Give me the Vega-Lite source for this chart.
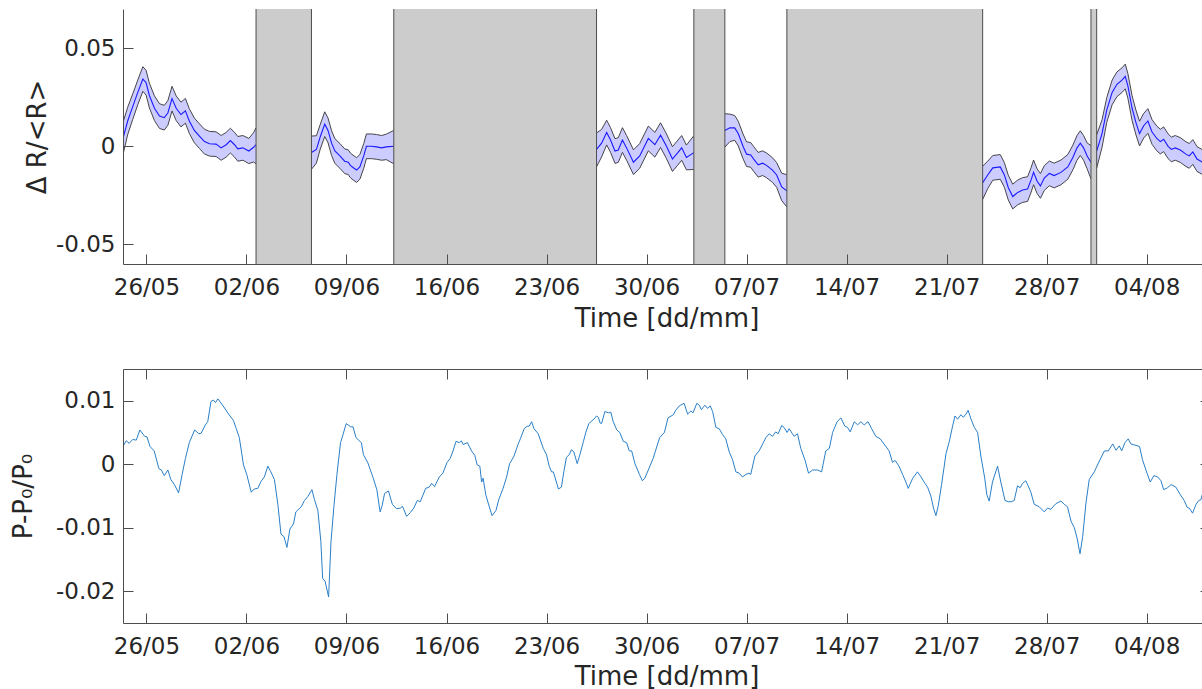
{
"$schema": "https://vega.github.io/schema/vega-lite/v6.json",
"autosize": {"type": "pad"},
"padding": {"left": 9, "top": 8, "right": 0, "bottom": 0},
"background": "white",
"spacing": 105,
"bounds": "flush",
"config": {
  "font": "DejaVu Sans",
  "view": {"stroke": null},
  "axis": {"grid": false, "domainColor": "#4d4d4d", "tickColor": "#4d4d4d", "tickSize": -10, "tickWidth": 1, "domainWidth": 1,
    "labelColor": "#262626", "titleColor": "#262626", "labelFontSize": 23, "titleFontSize": 26, "titleFontWeight": "normal",
    "labelFont": "DejaVu Sans", "titleFont": "DejaVu Sans", "zindex": 1, "labelFlush": false, "labelOverlap": false}
},
"datasets": {
"g": [
 {"s": "2018-06-02T16:07:00", "e": "2018-06-06T13:12:00"},
 {"s": "2018-06-12T07:26:00", "e": "2018-06-26T12:00:00"},
 {"s": "2018-07-03T07:26:00", "e": "2018-07-05T11:30:00"},
 {"s": "2018-07-09T19:40:00", "e": "2018-07-23T12:30:00"},
 {"s": "2018-07-31T02:24:00", "e": "2018-07-31T12:00:00"}
],
"r": [
 {"seg":"A","t":"2018-05-24T08:40:00","m":0.0040,"lo":-0.0042,"hi":0.0122},
 {"seg":"A","t":"2018-05-24T16:30:00","m":0.0129,"lo":0.0059,"hi":0.0199},
 {"seg":"A","t":"2018-05-25T01:00:00","m":0.0202,"lo":0.0137,"hi":0.0267},
 {"seg":"A","t":"2018-05-25T09:30:00","m":0.0275,"lo":0.0212,"hi":0.0338},
 {"seg":"A","t":"2018-05-25T18:00:00","m":0.0343,"lo":0.0280,"hi":0.0406},
 {"seg":"A","t":"2018-05-25T23:30:00","m":0.0324,"lo":0.0261,"hi":0.0387},
 {"seg":"A","t":"2018-05-26T05:00:00","m":0.0259,"lo":0.0196,"hi":0.0322},
 {"seg":"A","t":"2018-05-26T13:30:00","m":0.0194,"lo":0.0131,"hi":0.0257},
 {"seg":"A","t":"2018-05-26T22:00:00","m":0.0154,"lo":0.0091,"hi":0.0217},
 {"seg":"A","t":"2018-05-27T06:00:00","m":0.0146,"lo":0.0083,"hi":0.0209},
 {"seg":"A","t":"2018-05-27T12:00:00","m":0.0170,"lo":0.0107,"hi":0.0233},
 {"seg":"A","t":"2018-05-27T19:00:00","m":0.0243,"lo":0.0180,"hi":0.0306},
 {"seg":"A","t":"2018-05-28T02:00:00","m":0.0194,"lo":0.0131,"hi":0.0257},
 {"seg":"A","t":"2018-05-28T10:00:00","m":0.0162,"lo":0.0099,"hi":0.0225},
 {"seg":"A","t":"2018-05-28T17:30:00","m":0.0181,"lo":0.0118,"hi":0.0244},
 {"seg":"A","t":"2018-05-29T00:00:00","m":0.0129,"lo":0.0066,"hi":0.0192},
 {"seg":"A","t":"2018-05-29T08:30:00","m":0.0081,"lo":0.0018,"hi":0.0144},
 {"seg":"A","t":"2018-05-29T17:00:00","m":0.0052,"lo":-0.0011,"hi":0.0115},
 {"seg":"A","t":"2018-05-30T01:30:00","m":0.0024,"lo":-0.0039,"hi":0.0087},
 {"seg":"A","t":"2018-05-30T10:00:00","m":0.0013,"lo":-0.0050,"hi":0.0076},
 {"seg":"A","t":"2018-05-30T21:00:00","m":0.0011,"lo":-0.0052,"hi":0.0074},
 {"seg":"A","t":"2018-05-31T05:30:00","m":-0.0008,"lo":-0.0071,"hi":0.0055},
 {"seg":"A","t":"2018-05-31T14:00:00","m":0.0008,"lo":-0.0055,"hi":0.0071},
 {"seg":"A","t":"2018-05-31T21:00:00","m":0.0029,"lo":-0.0034,"hi":0.0092},
 {"seg":"A","t":"2018-06-01T04:00:00","m":0.0008,"lo":-0.0055,"hi":0.0071},
 {"seg":"A","t":"2018-06-01T09:30:00","m":-0.0013,"lo":-0.0076,"hi":0.0050},
 {"seg":"A","t":"2018-06-01T18:00:00","m":-0.0008,"lo":-0.0071,"hi":0.0055},
 {"seg":"A","t":"2018-06-02T04:00:00","m":-0.0024,"lo":-0.0088,"hi":0.0040},
 {"seg":"A","t":"2018-06-02T12:00:00","m":-0.0005,"lo":-0.0080,"hi":0.0070},
 {"seg":"A","t":"2018-06-02T16:07:00","m":0.0008,"lo":-0.0089,"hi":0.0094},
 {"seg":"B","t":"2018-06-06T13:12:00","m":-0.0032,"lo":-0.0117,"hi":0.0052},
 {"seg":"B","t":"2018-06-06T21:30:00","m":-0.0016,"lo":-0.0086,"hi":0.0054},
 {"seg":"B","t":"2018-06-07T04:00:00","m":0.0049,"lo":-0.0014,"hi":0.0112},
 {"seg":"B","t":"2018-06-07T11:30:00","m":0.0113,"lo":0.0050,"hi":0.0176},
 {"seg":"B","t":"2018-06-07T17:00:00","m":0.0081,"lo":0.0018,"hi":0.0144},
 {"seg":"B","t":"2018-06-07T23:00:00","m":0.0016,"lo":-0.0047,"hi":0.0079},
 {"seg":"B","t":"2018-06-08T04:30:00","m":-0.0024,"lo":-0.0087,"hi":0.0039},
 {"seg":"B","t":"2018-06-08T13:00:00","m":-0.0049,"lo":-0.0112,"hi":0.0014},
 {"seg":"B","t":"2018-06-08T21:00:00","m":-0.0076,"lo":-0.0139,"hi":-0.0013},
 {"seg":"B","t":"2018-06-09T03:00:00","m":-0.0081,"lo":-0.0144,"hi":-0.0018},
 {"seg":"B","t":"2018-06-09T06:30:00","m":-0.0097,"lo":-0.0160,"hi":-0.0034},
 {"seg":"B","t":"2018-06-09T11:00:00","m":-0.0108,"lo":-0.0171,"hi":-0.0045},
 {"seg":"B","t":"2018-06-09T17:00:00","m":-0.0121,"lo":-0.0184,"hi":-0.0058},
 {"seg":"B","t":"2018-06-09T22:30:00","m":-0.0105,"lo":-0.0168,"hi":-0.0042},
 {"seg":"B","t":"2018-06-10T05:00:00","m":-0.0049,"lo":-0.0112,"hi":0.0014},
 {"seg":"B","t":"2018-06-10T09:30:00","m":0.0000,"lo":-0.0063,"hi":0.0063},
 {"seg":"B","t":"2018-06-10T18:00:00","m":0.0000,"lo":-0.0063,"hi":0.0063},
 {"seg":"B","t":"2018-06-11T02:30:00","m":-0.0003,"lo":-0.0066,"hi":0.0060},
 {"seg":"B","t":"2018-06-11T11:00:00","m":-0.0008,"lo":-0.0071,"hi":0.0055},
 {"seg":"B","t":"2018-06-11T19:00:00","m":-0.0003,"lo":-0.0068,"hi":0.0062},
 {"seg":"B","t":"2018-06-12T07:26:00","m":0.0000,"lo":-0.0089,"hi":0.0081},
 {"seg":"C","t":"2018-06-26T12:00:00","m":-0.0016,"lo":-0.0105,"hi":0.0068},
 {"seg":"C","t":"2018-06-26T20:30:00","m":0.0016,"lo":-0.0054,"hi":0.0086},
 {"seg":"C","t":"2018-06-27T05:00:00","m":0.0070,"lo":0.0007,"hi":0.0133},
 {"seg":"C","t":"2018-06-27T11:30:00","m":0.0032,"lo":-0.0031,"hi":0.0095},
 {"seg":"C","t":"2018-06-27T19:00:00","m":-0.0024,"lo":-0.0087,"hi":0.0039},
 {"seg":"C","t":"2018-06-28T00:30:00","m":-0.0019,"lo":-0.0082,"hi":0.0044},
 {"seg":"C","t":"2018-06-28T07:30:00","m":0.0032,"lo":-0.0031,"hi":0.0095},
 {"seg":"C","t":"2018-06-28T14:30:00","m":-0.0008,"lo":-0.0071,"hi":0.0055},
 {"seg":"C","t":"2018-06-29T02:00:00","m":-0.0081,"lo":-0.0144,"hi":-0.0018},
 {"seg":"C","t":"2018-06-29T12:30:00","m":-0.0049,"lo":-0.0112,"hi":0.0014},
 {"seg":"C","t":"2018-06-30T03:00:00","m":0.0040,"lo":-0.0023,"hi":0.0103},
 {"seg":"C","t":"2018-06-30T14:00:00","m":0.0008,"lo":-0.0055,"hi":0.0071},
 {"seg":"C","t":"2018-06-30T23:30:00","m":0.0057,"lo":-0.0006,"hi":0.0120},
 {"seg":"C","t":"2018-07-01T09:30:00","m":0.0000,"lo":-0.0063,"hi":0.0063},
 {"seg":"C","t":"2018-07-01T19:30:00","m":-0.0065,"lo":-0.0128,"hi":-0.0002},
 {"seg":"C","t":"2018-07-02T03:30:00","m":-0.0036,"lo":-0.0099,"hi":0.0027},
 {"seg":"C","t":"2018-07-02T11:00:00","m":-0.0008,"lo":-0.0071,"hi":0.0055},
 {"seg":"C","t":"2018-07-02T19:00:00","m":-0.0057,"lo":-0.0120,"hi":0.0006},
 {"seg":"C","t":"2018-07-03T07:26:00","m":-0.0032,"lo":-0.0118,"hi":0.0054},
 {"seg":"D","t":"2018-07-05T11:30:00","m":0.0081,"lo":-0.0004,"hi":0.0166},
 {"seg":"D","t":"2018-07-05T20:00:00","m":0.0094,"lo":0.0024,"hi":0.0164},
 {"seg":"D","t":"2018-07-06T04:00:00","m":0.0094,"lo":0.0031,"hi":0.0157},
 {"seg":"D","t":"2018-07-06T10:00:00","m":0.0065,"lo":0.0002,"hi":0.0128},
 {"seg":"D","t":"2018-07-06T18:00:00","m":0.0000,"lo":-0.0063,"hi":0.0063},
 {"seg":"D","t":"2018-07-07T00:00:00","m":-0.0040,"lo":-0.0103,"hi":0.0023},
 {"seg":"D","t":"2018-07-07T07:00:00","m":-0.0044,"lo":-0.0107,"hi":0.0019},
 {"seg":"D","t":"2018-07-07T12:00:00","m":-0.0065,"lo":-0.0128,"hi":-0.0002},
 {"seg":"D","t":"2018-07-07T19:30:00","m":-0.0094,"lo":-0.0157,"hi":-0.0031},
 {"seg":"D","t":"2018-07-08T03:00:00","m":-0.0086,"lo":-0.0149,"hi":-0.0023},
 {"seg":"D","t":"2018-07-08T09:30:00","m":-0.0097,"lo":-0.0160,"hi":-0.0034},
 {"seg":"D","t":"2018-07-08T19:30:00","m":-0.0121,"lo":-0.0184,"hi":-0.0058},
 {"seg":"D","t":"2018-07-09T02:30:00","m":-0.0146,"lo":-0.0209,"hi":-0.0083},
 {"seg":"D","t":"2018-07-09T11:00:00","m":-0.0207,"lo":-0.0277,"hi":-0.0137},
 {"seg":"D","t":"2018-07-09T19:40:00","m":-0.0227,"lo":-0.0309,"hi":-0.0145},
 {"seg":"E","t":"2018-07-23T12:30:00","m":-0.0186,"lo":-0.0271,"hi":-0.0101},
 {"seg":"E","t":"2018-07-23T21:00:00","m":-0.0146,"lo":-0.0216,"hi":-0.0076},
 {"seg":"E","t":"2018-07-24T05:30:00","m":-0.0110,"lo":-0.0173,"hi":-0.0047},
 {"seg":"E","t":"2018-07-24T18:00:00","m":-0.0105,"lo":-0.0168,"hi":-0.0042},
 {"seg":"E","t":"2018-07-25T01:00:00","m":-0.0146,"lo":-0.0209,"hi":-0.0083},
 {"seg":"E","t":"2018-07-25T07:30:00","m":-0.0210,"lo":-0.0273,"hi":-0.0147},
 {"seg":"E","t":"2018-07-25T15:00:00","m":-0.0256,"lo":-0.0319,"hi":-0.0193},
 {"seg":"E","t":"2018-07-25T23:30:00","m":-0.0235,"lo":-0.0298,"hi":-0.0172},
 {"seg":"E","t":"2018-07-26T07:30:00","m":-0.0223,"lo":-0.0286,"hi":-0.0160},
 {"seg":"E","t":"2018-07-26T16:00:00","m":-0.0218,"lo":-0.0281,"hi":-0.0155},
 {"seg":"E","t":"2018-07-26T22:00:00","m":-0.0170,"lo":-0.0233,"hi":-0.0107},
 {"seg":"E","t":"2018-07-27T02:00:00","m":-0.0133,"lo":-0.0196,"hi":-0.0070},
 {"seg":"E","t":"2018-07-27T08:00:00","m":-0.0178,"lo":-0.0241,"hi":-0.0115},
 {"seg":"E","t":"2018-07-27T13:30:00","m":-0.0202,"lo":-0.0265,"hi":-0.0139},
 {"seg":"E","t":"2018-07-27T20:00:00","m":-0.0162,"lo":-0.0225,"hi":-0.0099},
 {"seg":"E","t":"2018-07-28T04:30:00","m":-0.0138,"lo":-0.0201,"hi":-0.0075},
 {"seg":"E","t":"2018-07-28T12:30:00","m":-0.0149,"lo":-0.0212,"hi":-0.0086},
 {"seg":"E","t":"2018-07-29T00:00:00","m":-0.0133,"lo":-0.0196,"hi":-0.0070},
 {"seg":"E","t":"2018-07-29T11:30:00","m":-0.0105,"lo":-0.0168,"hi":-0.0042},
 {"seg":"E","t":"2018-07-29T20:00:00","m":-0.0057,"lo":-0.0120,"hi":0.0006},
 {"seg":"E","t":"2018-07-30T03:00:00","m":-0.0008,"lo":-0.0071,"hi":0.0055},
 {"seg":"E","t":"2018-07-30T08:30:00","m":0.0016,"lo":-0.0047,"hi":0.0079},
 {"seg":"E","t":"2018-07-30T14:00:00","m":-0.0008,"lo":-0.0071,"hi":0.0055},
 {"seg":"E","t":"2018-07-30T20:00:00","m":-0.0049,"lo":-0.0115,"hi":0.0017},
 {"seg":"E","t":"2018-07-31T02:24:00","m":-0.0081,"lo":-0.0166,"hi":0.0004},
 {"seg":"F","t":"2018-07-31T12:00:00","m":-0.0024,"lo":-0.0111,"hi":0.0059},
 {"seg":"F","t":"2018-07-31T21:00:00","m":0.0065,"lo":-0.0005,"hi":0.0135},
 {"seg":"F","t":"2018-08-01T05:00:00","m":0.0186,"lo":0.0123,"hi":0.0249},
 {"seg":"F","t":"2018-08-01T14:00:00","m":0.0275,"lo":0.0212,"hi":0.0338},
 {"seg":"F","t":"2018-08-01T22:00:00","m":0.0316,"lo":0.0253,"hi":0.0379},
 {"seg":"F","t":"2018-08-02T06:30:00","m":0.0337,"lo":0.0274,"hi":0.0400},
 {"seg":"F","t":"2018-08-02T12:00:00","m":0.0356,"lo":0.0293,"hi":0.0419},
 {"seg":"F","t":"2018-08-02T16:30:00","m":0.0307,"lo":0.0244,"hi":0.0370},
 {"seg":"F","t":"2018-08-02T23:30:00","m":0.0194,"lo":0.0131,"hi":0.0257},
 {"seg":"F","t":"2018-08-03T06:00:00","m":0.0121,"lo":0.0058,"hi":0.0184},
 {"seg":"F","t":"2018-08-03T12:00:00","m":0.0065,"lo":0.0002,"hi":0.0128},
 {"seg":"F","t":"2018-08-03T19:00:00","m":0.0105,"lo":0.0042,"hi":0.0168},
 {"seg":"F","t":"2018-08-04T02:00:00","m":0.0129,"lo":0.0066,"hi":0.0192},
 {"seg":"F","t":"2018-08-04T09:00:00","m":0.0073,"lo":0.0010,"hi":0.0136},
 {"seg":"F","t":"2018-08-04T17:00:00","m":0.0040,"lo":-0.0023,"hi":0.0103},
 {"seg":"F","t":"2018-08-04T23:00:00","m":0.0024,"lo":-0.0039,"hi":0.0087},
 {"seg":"F","t":"2018-08-05T04:30:00","m":0.0036,"lo":-0.0027,"hi":0.0099},
 {"seg":"F","t":"2018-08-05T12:00:00","m":0.0000,"lo":-0.0063,"hi":0.0063},
 {"seg":"F","t":"2018-08-05T17:30:00","m":-0.0016,"lo":-0.0079,"hi":0.0047},
 {"seg":"F","t":"2018-08-06T00:00:00","m":-0.0008,"lo":-0.0071,"hi":0.0055},
 {"seg":"F","t":"2018-08-06T08:30:00","m":-0.0019,"lo":-0.0082,"hi":0.0044},
 {"seg":"F","t":"2018-08-06T18:00:00","m":-0.0040,"lo":-0.0103,"hi":0.0023},
 {"seg":"F","t":"2018-08-06T23:30:00","m":-0.0049,"lo":-0.0112,"hi":0.0014},
 {"seg":"F","t":"2018-08-07T05:30:00","m":-0.0029,"lo":-0.0092,"hi":0.0034},
 {"seg":"F","t":"2018-08-07T12:30:00","m":-0.0065,"lo":-0.0128,"hi":-0.0002},
 {"seg":"F","t":"2018-08-07T22:00:00","m":-0.0081,"lo":-0.0144,"hi":-0.0018},
 {"seg":"F","t":"2018-08-08T10:20:00","m":-0.0081,"lo":-0.0144,"hi":-0.0018}
],
"p": [
 {"t":"2018-05-24T08:40:00","v":0.0028},{"t":"2018-05-24T14:00:00","v":0.0037},{"t":"2018-05-24T19:00:00","v":0.0033},
 {"t":"2018-05-25T01:00:00","v":0.0039},{"t":"2018-05-25T07:00:00","v":0.0038},{"t":"2018-05-25T13:00:00","v":0.0054},
 {"t":"2018-05-25T21:00:00","v":0.0044},{"t":"2018-05-26T01:00:00","v":0.0043},{"t":"2018-05-26T06:00:00","v":0.0028},
 {"t":"2018-05-26T13:00:00","v":0.0021},{"t":"2018-05-26T21:00:00","v":-0.0007},{"t":"2018-05-27T01:00:00","v":-0.0009},
 {"t":"2018-05-27T06:00:00","v":-0.0018},{"t":"2018-05-27T12:00:00","v":-0.0009},{"t":"2018-05-27T17:00:00","v":-0.0024},
 {"t":"2018-05-27T23:00:00","v":-0.0032},{"t":"2018-05-28T06:00:00","v":-0.0045},{"t":"2018-05-28T12:00:00","v":-0.0016},
 {"t":"2018-05-28T17:30:00","v":0.0009},{"t":"2018-05-29T00:00:00","v":0.0034},{"t":"2018-05-29T09:00:00","v":0.0054},
 {"t":"2018-05-29T16:00:00","v":0.0048},{"t":"2018-05-29T20:00:00","v":0.0049},{"t":"2018-05-30T03:00:00","v":0.0062},
 {"t":"2018-05-30T07:00:00","v":0.0067},{"t":"2018-05-30T12:30:00","v":0.0099},{"t":"2018-05-30T16:30:00","v":0.0101},
 {"t":"2018-05-30T20:00:00","v":0.0097},{"t":"2018-05-31T00:00:00","v":0.0103},{"t":"2018-05-31T08:00:00","v":0.0093},
 {"t":"2018-05-31T18:00:00","v":0.0079},{"t":"2018-06-01T02:00:00","v":0.0069},{"t":"2018-06-01T07:00:00","v":0.0056},
 {"t":"2018-06-01T12:00:00","v":0.0042},{"t":"2018-06-01T19:00:00","v":-0.0001},{"t":"2018-06-02T00:30:00","v":-0.0016},
 {"t":"2018-06-02T08:00:00","v":-0.0044},{"t":"2018-06-02T13:00:00","v":-0.0039},{"t":"2018-06-02T19:00:00","v":-0.0038},
 {"t":"2018-06-03T00:30:00","v":-0.0027},{"t":"2018-06-03T06:00:00","v":-0.0020},{"t":"2018-06-03T12:00:00","v":-0.0003},
 {"t":"2018-06-03T17:00:00","v":-0.0012},{"t":"2018-06-03T23:00:00","v":-0.0024},{"t":"2018-06-04T05:00:00","v":-0.0065},
 {"t":"2018-06-04T10:00:00","v":-0.0110},{"t":"2018-06-04T15:00:00","v":-0.0114},{"t":"2018-06-04T20:00:00","v":-0.0131},
 {"t":"2018-06-05T01:00:00","v":-0.0102},{"t":"2018-06-05T07:00:00","v":-0.0094},{"t":"2018-06-05T11:00:00","v":-0.0075},
 {"t":"2018-06-05T20:00:00","v":-0.0067},{"t":"2018-06-06T01:30:00","v":-0.0057},{"t":"2018-06-06T07:00:00","v":-0.0051},
 {"t":"2018-06-06T14:00:00","v":-0.0040},{"t":"2018-06-06T18:00:00","v":-0.0055},{"t":"2018-06-07T00:00:00","v":-0.0073},
 {"t":"2018-06-07T05:00:00","v":-0.0122},{"t":"2018-06-07T08:00:00","v":-0.0180},{"t":"2018-06-07T12:00:00","v":-0.0184},
 {"t":"2018-06-07T18:00:00","v":-0.0209},{"t":"2018-06-07T22:00:00","v":-0.0122},{"t":"2018-06-08T03:00:00","v":-0.0065},
 {"t":"2018-06-08T08:00:00","v":-0.0016},{"t":"2018-06-08T14:00:00","v":0.0034},{"t":"2018-06-08T18:00:00","v":0.0046},
 {"t":"2018-06-08T23:30:00","v":0.0064},{"t":"2018-06-09T07:00:00","v":0.0059},{"t":"2018-06-09T11:00:00","v":0.0059},
 {"t":"2018-06-09T16:00:00","v":0.0042},{"t":"2018-06-10T01:00:00","v":0.0034},{"t":"2018-06-10T04:30:00","v":0.0015},
 {"t":"2018-06-10T12:00:00","v":0.0002},{"t":"2018-06-10T21:00:00","v":-0.0022},{"t":"2018-06-11T03:00:00","v":-0.0040},
 {"t":"2018-06-11T08:30:00","v":-0.0075},{"t":"2018-06-11T12:00:00","v":-0.0065},{"t":"2018-06-11T16:00:00","v":-0.0046},
 {"t":"2018-06-11T22:30:00","v":-0.0042},{"t":"2018-06-12T05:00:00","v":-0.0063},{"t":"2018-06-12T12:00:00","v":-0.0070},
 {"t":"2018-06-12T19:00:00","v":-0.0069},{"t":"2018-06-12T22:00:00","v":-0.0066},{"t":"2018-06-13T05:00:00","v":-0.0082},
 {"t":"2018-06-13T11:30:00","v":-0.0076},{"t":"2018-06-13T17:00:00","v":-0.0069},{"t":"2018-06-13T23:00:00","v":-0.0057},
 {"t":"2018-06-14T04:00:00","v":-0.0059},{"t":"2018-06-14T13:00:00","v":-0.0038},{"t":"2018-06-14T19:00:00","v":-0.0036},
 {"t":"2018-06-14T23:00:00","v":-0.0030},{"t":"2018-06-15T04:00:00","v":-0.0035},{"t":"2018-06-15T12:00:00","v":-0.0020},
 {"t":"2018-06-15T18:00:00","v":-0.0014},{"t":"2018-06-16T01:00:00","v":0.0003},{"t":"2018-06-16T06:00:00","v":0.0009},
 {"t":"2018-06-16T11:00:00","v":0.0021},{"t":"2018-06-16T16:00:00","v":0.0036},{"t":"2018-06-16T22:00:00","v":0.0034},
 {"t":"2018-06-17T01:00:00","v":0.0037},{"t":"2018-06-17T04:00:00","v":0.0031},{"t":"2018-06-17T11:00:00","v":0.0034},
 {"t":"2018-06-17T18:00:00","v":0.0021},{"t":"2018-06-17T23:30:00","v":0.0014},{"t":"2018-06-18T03:30:00","v":-0.0001},
 {"t":"2018-06-18T08:00:00","v":-0.0003},{"t":"2018-06-18T11:00:00","v":-0.0028},{"t":"2018-06-18T13:30:00","v":-0.0022},
 {"t":"2018-06-18T18:00:00","v":-0.0048},{"t":"2018-06-18T22:00:00","v":-0.0061},{"t":"2018-06-19T04:30:00","v":-0.0081},
 {"t":"2018-06-19T11:00:00","v":-0.0073},{"t":"2018-06-19T16:00:00","v":-0.0055},{"t":"2018-06-19T23:00:00","v":-0.0038},
 {"t":"2018-06-20T05:00:00","v":-0.0020},{"t":"2018-06-20T10:00:00","v":0.0001},{"t":"2018-06-20T17:00:00","v":0.0012},
 {"t":"2018-06-21T00:30:00","v":0.0032},{"t":"2018-06-21T04:00:00","v":0.0040},{"t":"2018-06-21T10:30:00","v":0.0056},
 {"t":"2018-06-21T15:30:00","v":0.0060},{"t":"2018-06-21T19:00:00","v":0.0060},{"t":"2018-06-21T23:00:00","v":0.0067},
 {"t":"2018-06-22T03:00:00","v":0.0056},{"t":"2018-06-22T10:00:00","v":0.0048},{"t":"2018-06-22T18:30:00","v":0.0025},
 {"t":"2018-06-23T00:00:00","v":0.0015},{"t":"2018-06-23T04:30:00","v":-0.0003},{"t":"2018-06-23T08:30:00","v":-0.0012},
 {"t":"2018-06-23T11:30:00","v":-0.0012},{"t":"2018-06-23T20:00:00","v":-0.0039},{"t":"2018-06-24T01:00:00","v":-0.0036},
 {"t":"2018-06-24T05:00:00","v":-0.0012},{"t":"2018-06-24T09:30:00","v":0.0011},{"t":"2018-06-24T14:00:00","v":0.0015},
 {"t":"2018-06-24T18:00:00","v":0.0023},{"t":"2018-06-24T22:00:00","v":0.0019},{"t":"2018-06-25T03:30:00","v":0.0001},
 {"t":"2018-06-25T08:00:00","v":0.0015},{"t":"2018-06-25T14:00:00","v":0.0036},{"t":"2018-06-25T18:00:00","v":0.0050},
 {"t":"2018-06-25T23:00:00","v":0.0064},{"t":"2018-06-26T07:30:00","v":0.0071},{"t":"2018-06-26T12:00:00","v":0.0076},
 {"t":"2018-06-26T15:00:00","v":0.0074},{"t":"2018-06-26T18:00:00","v":0.0065},{"t":"2018-06-26T20:30:00","v":0.0064},
 {"t":"2018-06-27T02:00:00","v":0.0083},{"t":"2018-06-27T08:00:00","v":0.0081},{"t":"2018-06-27T12:00:00","v":0.0082},
 {"t":"2018-06-27T16:00:00","v":0.0067},{"t":"2018-06-27T22:00:00","v":0.0054},{"t":"2018-06-28T03:00:00","v":0.0050},
 {"t":"2018-06-28T09:00:00","v":0.0036},{"t":"2018-06-28T14:30:00","v":0.0034},{"t":"2018-06-28T19:00:00","v":0.0021},
 {"t":"2018-06-28T23:00:00","v":0.0021},{"t":"2018-06-29T04:30:00","v":0.0001},{"t":"2018-06-29T12:00:00","v":-0.0016},
 {"t":"2018-06-29T17:00:00","v":-0.0026},{"t":"2018-06-29T21:00:00","v":-0.0022},{"t":"2018-06-30T03:00:00","v":-0.0009},
 {"t":"2018-06-30T11:00:00","v":0.0009},{"t":"2018-06-30T22:00:00","v":0.0042},{"t":"2018-07-01T06:00:00","v":0.0050},
 {"t":"2018-07-01T12:00:00","v":0.0073},{"t":"2018-07-01T21:00:00","v":0.0078},{"t":"2018-07-02T01:00:00","v":0.0085},
 {"t":"2018-07-02T07:00:00","v":0.0092},{"t":"2018-07-02T15:00:00","v":0.0096},{"t":"2018-07-02T21:00:00","v":0.0079},
 {"t":"2018-07-03T02:30:00","v":0.0084},{"t":"2018-07-03T06:00:00","v":0.0081},{"t":"2018-07-03T12:30:00","v":0.0096},
 {"t":"2018-07-03T16:30:00","v":0.0093},{"t":"2018-07-03T20:00:00","v":0.0086},{"t":"2018-07-04T02:00:00","v":0.0093},
 {"t":"2018-07-04T06:30:00","v":0.0088},{"t":"2018-07-04T11:00:00","v":0.0092},{"t":"2018-07-04T15:00:00","v":0.0083},
 {"t":"2018-07-04T20:30:00","v":0.0058},{"t":"2018-07-05T02:00:00","v":0.0056},{"t":"2018-07-05T07:30:00","v":0.0047},
 {"t":"2018-07-05T13:00:00","v":0.0040},{"t":"2018-07-05T19:00:00","v":0.0019},{"t":"2018-07-06T00:30:00","v":0.0007},
 {"t":"2018-07-06T06:00:00","v":-0.0012},{"t":"2018-07-06T11:30:00","v":-0.0014},{"t":"2018-07-06T17:00:00","v":-0.0020},
 {"t":"2018-07-06T23:00:00","v":-0.0016},{"t":"2018-07-07T04:00:00","v":-0.0014},{"t":"2018-07-07T07:00:00","v":-0.0016},
 {"t":"2018-07-07T14:00:00","v":0.0013},{"t":"2018-07-07T21:00:00","v":0.0021},{"t":"2018-07-08T03:00:00","v":0.0032},
 {"t":"2018-07-08T08:30:00","v":0.0042},{"t":"2018-07-08T14:00:00","v":0.0048},{"t":"2018-07-08T19:30:00","v":0.0044},
 {"t":"2018-07-09T01:00:00","v":0.0051},{"t":"2018-07-09T05:00:00","v":0.0048},{"t":"2018-07-09T11:00:00","v":0.0061},
 {"t":"2018-07-09T15:00:00","v":0.0058},{"t":"2018-07-09T20:00:00","v":0.0050},{"t":"2018-07-09T23:30:00","v":0.0056},
 {"t":"2018-07-10T05:00:00","v":0.0048},{"t":"2018-07-10T08:00:00","v":0.0044},{"t":"2018-07-10T13:30:00","v":0.0048},
 {"t":"2018-07-10T19:00:00","v":0.0025},{"t":"2018-07-11T02:00:00","v":0.0007},{"t":"2018-07-11T08:00:00","v":-0.0014},
 {"t":"2018-07-11T15:00:00","v":-0.0009},{"t":"2018-07-11T23:00:00","v":-0.0009},{"t":"2018-07-12T06:00:00","v":-0.0012},
 {"t":"2018-07-12T13:00:00","v":0.0021},{"t":"2018-07-12T19:00:00","v":0.0025},{"t":"2018-07-13T00:30:00","v":0.0050},
 {"t":"2018-07-13T08:00:00","v":0.0067},{"t":"2018-07-13T14:30:00","v":0.0073},{"t":"2018-07-13T21:00:00","v":0.0060},
 {"t":"2018-07-14T01:30:00","v":0.0058},{"t":"2018-07-14T06:00:00","v":0.0051},{"t":"2018-07-14T13:00:00","v":0.0067},
 {"t":"2018-07-14T18:30:00","v":0.0062},{"t":"2018-07-15T00:00:00","v":0.0067},{"t":"2018-07-15T05:30:00","v":0.0062},
 {"t":"2018-07-15T12:00:00","v":0.0067},{"t":"2018-07-15T18:00:00","v":0.0056},{"t":"2018-07-16T01:00:00","v":0.0044},
 {"t":"2018-07-16T08:30:00","v":0.0040},{"t":"2018-07-16T18:00:00","v":0.0028},{"t":"2018-07-16T23:30:00","v":0.0021},
 {"t":"2018-07-17T05:00:00","v":0.0003},{"t":"2018-07-17T09:30:00","v":0.0006},{"t":"2018-07-17T16:00:00","v":-0.0003},
 {"t":"2018-07-17T22:00:00","v":-0.0016},{"t":"2018-07-18T03:30:00","v":-0.0028},{"t":"2018-07-18T07:30:00","v":-0.0038},
 {"t":"2018-07-18T15:00:00","v":-0.0022},{"t":"2018-07-18T23:00:00","v":-0.0012},{"t":"2018-07-19T05:00:00","v":-0.0020},
 {"t":"2018-07-19T11:30:00","v":-0.0030},{"t":"2018-07-19T16:00:00","v":-0.0036},{"t":"2018-07-19T21:30:00","v":-0.0050},
 {"t":"2018-07-20T02:00:00","v":-0.0069},{"t":"2018-07-20T06:00:00","v":-0.0081},{"t":"2018-07-20T10:00:00","v":-0.0065},
 {"t":"2018-07-20T15:30:00","v":-0.0032},{"t":"2018-07-20T23:00:00","v":0.0017},{"t":"2018-07-21T04:30:00","v":0.0036},
 {"t":"2018-07-21T10:00:00","v":0.0060},{"t":"2018-07-21T14:00:00","v":0.0076},{"t":"2018-07-21T18:30:00","v":0.0071},
 {"t":"2018-07-22T00:00:00","v":0.0078},{"t":"2018-07-22T04:00:00","v":0.0074},{"t":"2018-07-22T08:30:00","v":0.0079},
 {"t":"2018-07-22T12:00:00","v":0.0085},{"t":"2018-07-22T17:00:00","v":0.0071},{"t":"2018-07-22T22:30:00","v":0.0058},
 {"t":"2018-07-23T04:00:00","v":0.0050},{"t":"2018-07-23T09:30:00","v":0.0013},{"t":"2018-07-23T16:00:00","v":-0.0022},
 {"t":"2018-07-23T19:30:00","v":-0.0048},{"t":"2018-07-23T23:30:00","v":-0.0058},{"t":"2018-07-24T05:00:00","v":-0.0028},
 {"t":"2018-07-24T13:30:00","v":-0.0003},{"t":"2018-07-24T19:00:00","v":-0.0028},{"t":"2018-07-25T02:00:00","v":-0.0057},
 {"t":"2018-07-25T07:30:00","v":-0.0059},{"t":"2018-07-25T13:00:00","v":-0.0059},{"t":"2018-07-25T17:30:00","v":-0.0057},
 {"t":"2018-07-25T23:00:00","v":-0.0034},{"t":"2018-07-26T03:30:00","v":-0.0037},{"t":"2018-07-26T07:30:00","v":-0.0030},
 {"t":"2018-07-26T13:00:00","v":-0.0026},{"t":"2018-07-26T16:00:00","v":-0.0032},{"t":"2018-07-26T21:30:00","v":-0.0044},
 {"t":"2018-07-27T03:00:00","v":-0.0063},{"t":"2018-07-27T11:30:00","v":-0.0067},{"t":"2018-07-27T20:00:00","v":-0.0075},
 {"t":"2018-07-28T01:30:00","v":-0.0069},{"t":"2018-07-28T07:00:00","v":-0.0071},{"t":"2018-07-28T15:30:00","v":-0.0062},
 {"t":"2018-07-29T00:00:00","v":-0.0058},{"t":"2018-07-29T05:30:00","v":-0.0063},{"t":"2018-07-29T11:00:00","v":-0.0067},
 {"t":"2018-07-29T17:00:00","v":-0.0090},{"t":"2018-07-29T22:30:00","v":-0.0100},{"t":"2018-07-30T03:00:00","v":-0.0116},
 {"t":"2018-07-30T08:00:00","v":-0.0141},{"t":"2018-07-30T12:30:00","v":-0.0114},{"t":"2018-07-30T18:00:00","v":-0.0061},
 {"t":"2018-07-30T23:30:00","v":-0.0024},{"t":"2018-07-31T08:00:00","v":-0.0012},{"t":"2018-07-31T16:30:00","v":0.0005},
 {"t":"2018-08-01T01:00:00","v":0.0021},{"t":"2018-08-01T07:30:00","v":0.0021},{"t":"2018-08-01T15:00:00","v":0.0032},
 {"t":"2018-08-01T20:30:00","v":0.0022},{"t":"2018-08-02T02:00:00","v":0.0029},{"t":"2018-08-02T06:00:00","v":0.0021},
 {"t":"2018-08-02T11:30:00","v":0.0034},{"t":"2018-08-02T17:00:00","v":0.0040},{"t":"2018-08-02T21:30:00","v":0.0032},
 {"t":"2018-08-03T04:30:00","v":0.0030},{"t":"2018-08-03T12:00:00","v":0.0028},{"t":"2018-08-03T17:00:00","v":0.0007},
 {"t":"2018-08-04T00:30:00","v":-0.0014},{"t":"2018-08-04T06:00:00","v":-0.0028},{"t":"2018-08-04T12:00:00","v":-0.0018},
 {"t":"2018-08-04T18:30:00","v":-0.0020},{"t":"2018-08-05T00:00:00","v":-0.0026},{"t":"2018-08-05T04:30:00","v":-0.0040},
 {"t":"2018-08-05T11:00:00","v":-0.0037},{"t":"2018-08-05T17:00:00","v":-0.0032},{"t":"2018-08-06T01:00:00","v":-0.0036},
 {"t":"2018-08-06T08:30:00","v":-0.0048},{"t":"2018-08-06T15:00:00","v":-0.0057},{"t":"2018-08-06T20:00:00","v":-0.0068},
 {"t":"2018-08-06T23:30:00","v":-0.0069},{"t":"2018-08-07T05:00:00","v":-0.0077},{"t":"2018-08-07T11:00:00","v":-0.0063},
 {"t":"2018-08-07T15:30:00","v":-0.0057},{"t":"2018-08-07T19:00:00","v":-0.0056},{"t":"2018-08-07T22:30:00","v":-0.0044},
 {"t":"2018-08-08T04:00:00","v":-0.0035}
]
},
"vconcat": [
 {
  "width": 1087, "height": 255,
  "layer": [
   {"data": {"name": "r"}, "mark": {"type": "area", "color": "#ccccff", "opacity": 1, "clip": true},
    "encoding": {
     "x": {"field": "t", "type": "temporal",
       "scale": {"domain": [{"year":2018,"month":5,"date":24,"hours":8,"minutes":40},{"year":2018,"month":8,"date":8,"hours":10,"minutes":20}]},
       "axis": {"title": "Time [dd/mm]", "format": "%d/%m", "labelPadding": 22, "titleY": 62, "titleBaseline": "alphabetic", "zindex": 2,
         "values": [{"year":2018,"month":5,"date":26},{"year":2018,"month":6,"date":2},{"year":2018,"month":6,"date":9},{"year":2018,"month":6,"date":16},{"year":2018,"month":6,"date":23},{"year":2018,"month":6,"date":30},{"year":2018,"month":7,"date":7},{"year":2018,"month":7,"date":14},{"year":2018,"month":7,"date":21},{"year":2018,"month":7,"date":28},{"year":2018,"month":8,"date":4}]}},
     "y": {"field": "lo", "type": "quantitative", "scale": {"domain": [-0.0568, 0.067]},
       "axis": {"title": "Δ R/<R>", "values": [-0.05, 0, 0.05], "labelExpr": "'' + datum.value", "labelPadding": 18, "titleX": -78, "titleBaseline": "alphabetic", "zindex": 2}},
     "y2": {"field": "hi"},
     "detail": {"field": "seg"}
    }},
   {"data": {"name": "r"}, "mark": {"type": "line", "color": "#333333", "strokeWidth": 0.9, "clip": true},
    "encoding": {"x": {"field": "t", "type": "temporal"}, "y": {"field": "hi", "type": "quantitative"}, "detail": {"field": "seg"}}},
   {"data": {"name": "r"}, "mark": {"type": "line", "color": "#333333", "strokeWidth": 0.9, "clip": true},
    "encoding": {"x": {"field": "t", "type": "temporal"}, "y": {"field": "lo", "type": "quantitative"}, "detail": {"field": "seg"}}},
   {"data": {"name": "r"}, "mark": {"type": "line", "color": "#1a1aff", "strokeWidth": 1.1, "clip": true},
    "encoding": {"x": {"field": "t", "type": "temporal"}, "y": {"field": "m", "type": "quantitative"}, "detail": {"field": "seg"}}},
   {"data": {"name": "g"}, "mark": {"type": "rect", "color": "#cccccc"},
    "encoding": {"x": {"field": "s", "type": "temporal"}, "x2": {"field": "e"}}},
   {"data": {"name": "g"}, "mark": {"type": "rule", "color": "#4d4d4d", "strokeWidth": 1},
    "encoding": {"x": {"field": "s", "type": "temporal"}}},
   {"data": {"name": "g"}, "mark": {"type": "rule", "color": "#4d4d4d", "strokeWidth": 1},
    "encoding": {"x": {"field": "e", "type": "temporal"}}}
  ]
 },
 {
  "width": 1087, "height": 254,
  "layer": [
   {"data": {"name": "p"}, "mark": {"type": "line", "color": "#2a7fc9", "strokeWidth": 1, "clip": true},
    "encoding": {
     "x": {"field": "t", "type": "temporal",
       "scale": {"domain": [{"year":2018,"month":5,"date":24,"hours":8,"minutes":40},{"year":2018,"month":8,"date":8,"hours":10,"minutes":20}]},
       "axis": {"title": "Time [dd/mm]", "format": "%d/%m", "labelPadding": 22, "titleY": 61, "titleBaseline": "alphabetic", "zindex": 2,
         "values": [{"year":2018,"month":5,"date":26},{"year":2018,"month":6,"date":2},{"year":2018,"month":6,"date":9},{"year":2018,"month":6,"date":16},{"year":2018,"month":6,"date":23},{"year":2018,"month":6,"date":30},{"year":2018,"month":7,"date":7},{"year":2018,"month":7,"date":14},{"year":2018,"month":7,"date":21},{"year":2018,"month":7,"date":28},{"year":2018,"month":8,"date":4}]}},
     "y": {"field": "v", "type": "quantitative", "scale": {"domain": [-0.021, 0.0103]},
       "axis": {"title": "P-P₀/P₀", "values": [-0.02, -0.01, 0, 0.01], "labelExpr": "'' + datum.value", "labelPadding": 18, "titleX": -92, "titleBaseline": "alphabetic", "zindex": 2}}
    }},
   {"data": {"name": "p"}, "mark": {"type": "line", "opacity": 0},
    "encoding": {
     "x": {"field": "t", "type": "temporal",
       "axis": {"orient": "top", "labels": false, "title": null, "zindex": 2,
         "values": [{"year":2018,"month":5,"date":26},{"year":2018,"month":6,"date":2},{"year":2018,"month":6,"date":9},{"year":2018,"month":6,"date":16},{"year":2018,"month":6,"date":23},{"year":2018,"month":6,"date":30},{"year":2018,"month":7,"date":7},{"year":2018,"month":7,"date":14},{"year":2018,"month":7,"date":21},{"year":2018,"month":7,"date":28},{"year":2018,"month":8,"date":4}]}},
     "y": {"field": "v", "type": "quantitative",
       "axis": {"orient": "right", "labels": false, "title": null, "zindex": 2, "values": [-0.02, -0.01, 0, 0.01]}}
    }}
  ],
  "resolve": {"axis": {"x": "independent", "y": "independent"}}
 }
]
}
